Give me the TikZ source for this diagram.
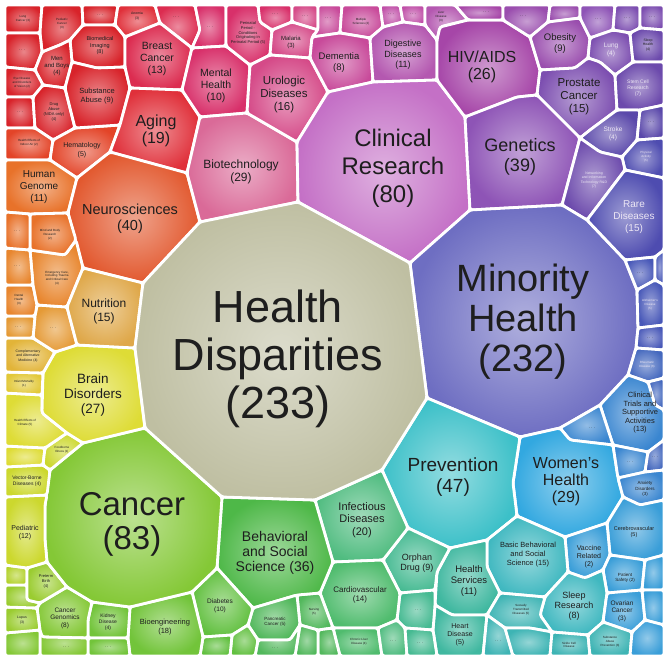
\documentclass[tikz,border=0pt]{standalone}
\usepackage{fontspec}
\setmainfont{Liberation Sans}
\definecolor{ink}{HTML}{1E1E1E}
\definecolor{lite}{HTML}{ECE6F4}
\definecolor{rA}{HTML}{D8232A}
\definecolor{rB}{HTML}{E0303A}
\definecolor{rC}{HTML}{DC2C50}
\definecolor{rD}{HTML}{D8306A}
\definecolor{rE}{HTML}{D54A88}
\definecolor{rF}{HTML}{DA6A98}
\definecolor{mA}{HTML}{C84A9A}
\definecolor{mB}{HTML}{C050A8}
\definecolor{mC}{HTML}{B458B0}
\definecolor{mD}{HTML}{C470C6}
\definecolor{pA}{HTML}{A646A8}
\definecolor{pB}{HTML}{9A4EAE}
\definecolor{pC}{HTML}{8E54B6}
\definecolor{pD}{HTML}{7C4EB0}
\definecolor{pE}{HTML}{6C4AAC}
\definecolor{pF}{HTML}{5A48AA}
\definecolor{pG}{HTML}{4E4CB0}
\definecolor{bA}{HTML}{6E6EC2}
\definecolor{bB}{HTML}{4858B8}
\definecolor{bC}{HTML}{4468BE}
\definecolor{bD}{HTML}{3A86D0}
\definecolor{bE}{HTML}{3A9ED8}
\definecolor{bF}{HTML}{32A8E0}
\definecolor{cA}{HTML}{3CC0C8}
\definecolor{cB}{HTML}{40B8C0}
\definecolor{cC}{HTML}{3EB4B4}
\definecolor{tA}{HTML}{40B8A0}
\definecolor{tB}{HTML}{46BA92}
\definecolor{gA}{HTML}{50BC80}
\definecolor{gB}{HTML}{50BC6E}
\definecolor{gC}{HTML}{52B85C}
\definecolor{gD}{HTML}{4EB848}
\definecolor{gE}{HTML}{62C040}
\definecolor{gF}{HTML}{72C43A}
\definecolor{gG}{HTML}{84C836}
\definecolor{yA}{HTML}{9ACC30}
\definecolor{yB}{HTML}{B4D22E}
\definecolor{yC}{HTML}{CCD82E}
\definecolor{yD}{HTML}{DEDC36}
\definecolor{yE}{HTML}{E2C838}
\definecolor{yF}{HTML}{E2B438}
\definecolor{oA}{HTML}{DFA84A}
\definecolor{oB}{HTML}{E59A36}
\definecolor{oC}{HTML}{E8862E}
\definecolor{oD}{HTML}{E8722A}
\definecolor{oE}{HTML}{E2582E}
\definecolor{oF}{HTML}{E34428}
\definecolor{hd}{HTML}{BFBFA2}
\newcommand\fs[2]{\fontsize{#1}{#2}\selectfont}
\newcommand\vcell[2]{\shade[rounded corners=2.5pt,outer color=#1,inner color=#1!55!white] #2 -- cycle; \draw[cellline] #2 -- cycle;}
\tikzset{
 cellline/.style={white,line width=2.8pt,rounded corners=2.5pt,line join=round},
 lbl/.style={align=center,inner sep=0pt,text=ink},
 llbl/.style={align=center,inner sep=0pt,text=lite},
}
\begin{document}
\begin{tikzpicture}[x=1pt,y=-1pt]
\useasboundingbox[fill=white] (0,0) rectangle (665,658);
% ---- top-left reds
\vcell{rA}{(5,5) -- (42,5) -- (40,33) -- (5,33)}
\vcell{rA}{(42,5) -- (82,5) -- (83,25) -- (70,40) -- (60,45) -- (42,52) -- (40,33)}
\vcell{rA}{(82,5) -- (118,5) -- (115,25) -- (83,25)}
\vcell{rB}{(118,5) -- (155,5) -- (160,23) -- (125,37) -- (115,25)}
\vcell{rC}{(155,5) -- (195,5) -- (200,30) -- (192,48) -- (160,23)}
\vcell{rD}{(195,5) -- (226,5) -- (226,46) -- (192,48) -- (200,30)}
\vcell{rA}{(5,33) -- (40,33) -- (42,52) -- (35,70) -- (5,67)}
\vcell{rA}{(72,62) -- (70,40) -- (83,25) -- (115,25) -- (125,37) -- (125,67) -- (97,68)}
\vcell{rA}{(35,70) -- (42,52) -- (60,45) -- (70,40) -- (72,62) -- (65,88) -- (43,85)}
\vcell{rA}{(5,67) -- (35,70) -- (43,85) -- (33,97) -- (5,97)}
\vcell{rA}{(5,97) -- (33,97) -- (35,128) -- (5,128)}
\vcell{rA}{(33,97) -- (43,85) -- (65,88) -- (75,128) -- (53,140) -- (35,128)}
\vcell{oF}{(5,128) -- (35,128) -- (53,140) -- (50,160) -- (5,160)}
\vcell{oF}{(53,140) -- (75,128) -- (120,125) -- (110,152) -- (77,178) -- (50,160)}
\vcell{rA}{(65,88) -- (72,62) -- (97,68) -- (125,67) -- (130,88) -- (120,125) -- (75,128)}
\vcell{rC}{(125,37) -- (160,23) -- (192,48) -- (182,90) -- (130,88) -- (125,67)}
\vcell{rB}{(130,88) -- (182,90) -- (200,117) -- (187,173) -- (110,152) -- (120,125)}
\vcell{rD}{(200,117) -- (182,90) -- (192,48) -- (226,46) -- (250,65) -- (247,113)}
\vcell{oD}{(5,160) -- (50,160) -- (77,178) -- (68,213) -- (30,214) -- (5,212)}
\vcell{oE}{(77,178) -- (110,152) -- (187,173) -- (200,222) -- (143,283) -- (83,268) -- (68,213)}
\vcell{rF}{(200,117) -- (247,113) -- (297,142) -- (298,202) -- (200,222) -- (187,173)}
\vcell{rD}{(226,5) -- (258,5) -- (260,22) -- (272,30) -- (270,55) -- (250,65) -- (226,46)}
\vcell{rD}{(258,5) -- (292,5) -- (292,22) -- (272,30) -- (260,22)}
\vcell{rE}{(292,5) -- (318,5) -- (318,30) -- (292,22)}
\vcell{rE}{(272,30) -- (292,22) -- (318,30) -- (312,37) -- (310,58) -- (270,55)}
\vcell{rE}{(247,113) -- (250,65) -- (270,55) -- (310,58) -- (328,92) -- (297,142)}
\vcell{mA}{(318,5) -- (342,5) -- (340,33) -- (312,37) -- (318,30)}
\vcell{mA}{(342,5) -- (380,5) -- (383,27) -- (370,38) -- (340,33)}
\vcell{mA}{(312,37) -- (340,33) -- (370,38) -- (373,82) -- (328,92) -- (310,58)}
\vcell{mB}{(380,5) -- (400,5) -- (403,22) -- (383,27)}
\vcell{mB}{(400,5) -- (425,5) -- (425,25) -- (403,22)}
\vcell{mC}{(370,38) -- (383,27) -- (403,22) -- (425,25) -- (437,40) -- (437,80) -- (373,82)}
\vcell{mC}{(425,5) -- (455,5) -- (468,20) -- (440,27) -- (437,40) -- (425,25)}
\vcell{mD}{(298,202) -- (297,142) -- (328,92) -- (373,82) -- (437,80) -- (465,117) -- (470,210) -- (410,263)}
% ---- purples
\vcell{pA}{(437,40) -- (440,27) -- (468,20) -- (503,20) -- (530,37) -- (540,70) -- (537,95) -- (517,97) -- (465,117) -- (437,80)}
\vcell{pA}{(455,5) -- (503,5) -- (503,20) -- (468,20)}
\vcell{pB}{(503,5) -- (550,5) -- (548,22) -- (530,37) -- (503,20)}
\vcell{pB}{(550,5) -- (580,5) -- (580,18) -- (548,22)}
\vcell{pB}{(530,37) -- (548,22) -- (580,18) -- (590,38) -- (588,58) -- (575,68) -- (540,70)}
\vcell{pC}{(580,5) -- (615,5) -- (613,30) -- (590,38) -- (580,18)}
\vcell{pD}{(615,5) -- (640,5) -- (640,28) -- (630,33) -- (613,30)}
\vcell{pD}{(640,5) -- (664,5) -- (664,30) -- (640,28)}
\vcell{pD}{(590,38) -- (613,30) -- (630,33) -- (633,62) -- (615,75) -- (600,62) -- (588,58)}
\vcell{pE}{(630,33) -- (640,28) -- (664,30) -- (664,62) -- (633,62)}
\vcell{pD}{(540,70) -- (575,68) -- (588,58) -- (600,62) -- (615,75) -- (617,110) -- (590,130) -- (580,138) -- (537,95)}
\vcell{pE}{(615,75) -- (633,62) -- (664,62) -- (664,105) -- (640,110) -- (617,110)}
\vcell{pC}{(465,117) -- (517,97) -- (537,95) -- (580,138) -- (562,205) -- (470,210)}
\vcell{pF}{(580,138) -- (590,130) -- (617,110) -- (640,110) -- (637,140) -- (622,157) -- (600,152)}
\vcell{pF}{(640,110) -- (664,105) -- (664,138) -- (637,140)}
\vcell{pG}{(637,140) -- (664,138) -- (664,178) -- (625,170) -- (622,157)}
\vcell{pE}{(580,138) -- (600,152) -- (622,157) -- (625,170) -- (587,220) -- (562,205)}
\vcell{bA}{(410,263) -- (470,210) -- (562,205) -- (587,220) -- (625,260) -- (637,290) -- (638,328) -- (636,348) -- (628,375) -- (600,405) -- (560,428) -- (520,437) -- (427,398)}
\vcell{pG}{(587,220) -- (625,170) -- (664,178) -- (664,250) -- (655,257) -- (625,260)}
% ---- blues right
\vcell{bB}{(625,260) -- (655,257) -- (655,280) -- (637,290)}
\vcell{bB}{(655,257) -- (664,250) -- (664,285) -- (655,280)}
\vcell{bB}{(637,290) -- (655,280) -- (664,285) -- (664,325) -- (638,328)}
\vcell{bB}{(638,328) -- (664,325) -- (664,350) -- (636,348)}
\vcell{bC}{(636,348) -- (664,350) -- (664,378) -- (648,382) -- (628,375)}
\vcell{bC}{(648,382) -- (664,378) -- (664,410) -- (655,405)}
\vcell{bD}{(600,405) -- (628,375) -- (648,382) -- (655,405) -- (664,410) -- (664,440) -- (648,452) -- (613,445)}
\vcell{bD}{(560,428) -- (600,405) -- (613,445) -- (570,440)}
\vcell{bF}{(520,437) -- (560,428) -- (570,440) -- (613,445) -- (618,478) -- (623,497) -- (607,523) -- (565,537) -- (517,516) -- (513,483)}
\vcell{bD}{(613,445) -- (648,452) -- (645,472) -- (618,478)}
\vcell{bC}{(648,452) -- (664,440) -- (664,470) -- (645,472)}
\vcell{bD}{(618,478) -- (645,472) -- (664,470) -- (664,500) -- (640,505) -- (623,497)}
\vcell{bE}{(607,523) -- (623,497) -- (640,505) -- (664,500) -- (664,555) -- (645,560) -- (610,555)}
\vcell{bE}{(565,537) -- (607,523) -- (610,555) -- (603,570) -- (585,578) -- (568,572)}
\vcell{bE}{(603,570) -- (610,555) -- (645,560) -- (642,590) -- (607,593)}
\vcell{bE}{(645,560) -- (664,555) -- (664,590) -- (642,590)}
% ---- cyan / teal
\vcell{cA}{(427,398) -- (520,437) -- (513,483) -- (517,516) -- (487,540) -- (450,548) -- (408,528) -- (382,470)}
\vcell{cB}{(487,540) -- (517,516) -- (565,537) -- (568,572) -- (545,597) -- (500,593) -- (487,567)}
\vcell{cB}{(545,597) -- (568,572) -- (585,578) -- (603,570) -- (607,593) -- (603,622) -- (588,635) -- (552,632) -- (540,615)}
\vcell{bE}{(607,593) -- (642,590) -- (645,620) -- (632,632) -- (603,622)}
\vcell{bE}{(642,590) -- (664,590) -- (664,625) -- (645,620)}
\vcell{tA}{(450,548) -- (487,540) -- (487,567) -- (500,593) -- (487,615) -- (452,615) -- (435,605) -- (437,572)}
\vcell{cC}{(500,593) -- (545,597) -- (540,615) -- (552,632) -- (530,628) -- (505,628) -- (487,615)}
\vcell{tA}{(435,605) -- (452,615) -- (487,615) -- (483,656) -- (437,656) -- (433,630)}
\vcell{cC}{(487,615) -- (505,628) -- (513,656) -- (483,656)}
\vcell{cC}{(505,628) -- (530,628) -- (552,632) -- (550,656) -- (513,656)}
\vcell{cC}{(552,632) -- (588,635) -- (590,656) -- (550,656)}
\vcell{cC}{(588,635) -- (603,622) -- (632,632) -- (630,656) -- (590,656)}
\vcell{bE}{(632,632) -- (645,620) -- (664,625) -- (664,656) -- (630,656)}
\vcell{tB}{(408,528) -- (450,548) -- (437,572) -- (435,590) -- (400,593) -- (383,560)}
\vcell{tB}{(400,593) -- (435,590) -- (435,605) -- (433,630) -- (405,628) -- (397,620)}
% ---- greens
\vcell{gA}{(315,500) -- (382,470) -- (408,528) -- (383,560) -- (333,562)}
\vcell{gB}{(333,562) -- (383,560) -- (400,593) -- (397,620) -- (378,628) -- (333,628) -- (320,593)}
\vcell{gB}{(333,628) -- (378,628) -- (382,656) -- (340,656)}
\vcell{gA}{(378,628) -- (397,620) -- (405,628) -- (407,656) -- (382,656)}
\vcell{tB}{(405,628) -- (433,630) -- (437,656) -- (407,656)}
\vcell{gC}{(297,595) -- (320,593) -- (333,628) -- (318,630) -- (300,625)}
\vcell{gC}{(318,630) -- (333,628) -- (340,656) -- (318,656)}
\vcell{gC}{(300,625) -- (318,630) -- (318,656) -- (295,656)}
\vcell{gD}{(222,497) -- (315,500) -- (333,562) -- (320,593) -- (297,595) -- (253,608) -- (217,568)}
\vcell{gC}{(253,608) -- (297,595) -- (300,625) -- (290,640) -- (258,640) -- (248,625)}
\vcell{gC}{(258,640) -- (290,640) -- (300,625) -- (295,656) -- (255,656)}
\vcell{gE}{(192,592) -- (217,568) -- (253,608) -- (248,625) -- (232,635) -- (203,637)}
\vcell{gE}{(232,635) -- (248,625) -- (258,640) -- (255,656) -- (230,656)}
\vcell{gE}{(203,637) -- (232,635) -- (230,656) -- (200,656)}
\vcell{gF}{(130,607) -- (192,592) -- (203,637) -- (200,656) -- (130,656) -- (128,638)}
\vcell{gF}{(92,602) -- (130,607) -- (128,638) -- (88,638) -- (88,620)}
\vcell{gF}{(88,638) -- (128,638) -- (130,656) -- (88,656)}
\vcell{gG}{(37,608) -- (40,603) -- (67,587) -- (92,602) -- (88,620) -- (88,638) -- (42,637) -- (40,630)}
\vcell{gG}{(40,630) -- (42,637) -- (88,638) -- (88,656) -- (40,656)}
\vcell{gG}{(5,633) -- (40,630) -- (40,656) -- (5,656)}
\vcell{yA}{(5,607) -- (37,608) -- (40,630) -- (5,633)}
\vcell{yA}{(5,585) -- (27,585) -- (27,600) -- (40,603) -- (37,608) -- (5,607)}
\vcell{yB}{(5,565) -- (27,568) -- (27,585) -- (5,585)}
\vcell{yA}{(27,568) -- (47,562) -- (67,587) -- (40,603) -- (27,600)}
\vcell{gG}{(83,443) -- (145,428) -- (222,497) -- (217,568) -- (192,592) -- (130,607) -- (92,602) -- (67,587) -- (47,562) -- (45,540) -- (45,505) -- (50,470)}
% ---- yellows / oranges left
\vcell{yC}{(5,497) -- (47,495) -- (45,505) -- (45,540) -- (47,562) -- (27,568) -- (5,565)}
\vcell{yC}{(5,467) -- (43,465) -- (50,470) -- (47,495) -- (5,497)}
\vcell{yD}{(5,446) -- (45,448) -- (43,465) -- (5,467)}
\vcell{yC}{(45,448) -- (67,433) -- (83,443) -- (50,470) -- (43,465)}
\vcell{yD}{(5,393) -- (42,395) -- (42,413) -- (67,433) -- (45,448) -- (5,446)}
\vcell{yD}{(77,345) -- (135,348) -- (145,428) -- (83,443) -- (67,433) -- (42,413) -- (43,373) -- (55,352)}
\vcell{yE}{(5,372) -- (43,373) -- (42,395) -- (5,393)}
\vcell{yF}{(5,338) -- (33,338) -- (55,352) -- (43,373) -- (5,372)}
\vcell{oB}{(37,305) -- (67,307) -- (77,345) -- (55,352) -- (33,338) -- (35,316)}
\vcell{oB}{(5,316) -- (35,316) -- (33,338) -- (5,338)}
\vcell{oC}{(5,285) -- (33,285) -- (37,305) -- (35,316) -- (5,316)}
\vcell{oC}{(30,250) -- (65,255) -- (76,240) -- (83,268) -- (67,307) -- (37,305) -- (33,285)}
\vcell{oC}{(5,248) -- (30,250) -- (33,285) -- (5,285)}
\vcell{oD}{(30,214) -- (68,213) -- (76,240) -- (65,255) -- (30,250)}
\vcell{oD}{(5,212) -- (30,214) -- (30,250) -- (5,248)}
\vcell{oA}{(83,268) -- (143,283) -- (135,348) -- (77,345) -- (67,307)}
% ---- centre
\vcell{hd}{(200,222) -- (298,202) -- (410,263) -- (427,398) -- (382,470) -- (315,500) -- (222,497) -- (145,428) -- (135,348) -- (143,283)}

% ================= labels
\node[lbl,font=\fs{45}{48}] (nhd) at (278,359) {Health\\Disparities\\(233)};
\node[lbl,font=\fs{38}{40}] (nmh) at (523,322) {Minority\\Health\\(232)};
\node[lbl,font=\fs{24}{28}] (ncr) at (393,168) {Clinical\\Research\\(80)};
\node[lbl,font=\fs{33}{34}] (nca) at (132,524) {Cancer\\(83)};
\node[lbl,font=\fs{18}{20}] (nge) at (520,157) {Genetics\\(39)};
\node[lbl,font=\fs{16}{17}] (nhiv) at (482,67) {HIV/AIDS\\(26)};
\node[lbl,font=\fs{16}{17}] (nag) at (156,131) {Aging\\(19)};
\node[lbl,font=\fs{10.5}{12}] (nbc) at (157,59) {Breast\\Cancer\\(13)};
\node[lbl,font=\fs{10.5}{12}] (nmen) at (216,86) {Mental\\Health\\(10)};
\node[lbl,font=\fs{11.5}{13}] (nuro) at (284,95) {Urologic\\Diseases\\(16)};
\node[lbl,font=\fs{12}{13}] (nbio) at (241,172) {Biotechnology\\(29)};
\node[lbl,font=\fs{9.5}{11}] (ndem) at (339,63) {Dementia\\(8)};
\node[lbl,font=\fs{9}{10.5}] (ndig) at (403,55) {Digestive\\Diseases\\(11)};
\node[lbl,font=\fs{6}{7}] (nmal) at (291,42) {Malaria\\(3)};
\node[lbl,font=\fs{4}{4.8}] (nper) at (248,33) {Perinatal\\Period -\\Conditions\\Originating in\\Perinatal Period (5)};
\node[lbl,font=\fs{9.5}{11}] (nob) at (560,44) {Obesity\\(9)};
\node[llbl,font=\fs{6.5}{7.5}] (nlung) at (611,50) {Lung\\(4)};
\node[lbl,font=\fs{11.5}{13}] (npro) at (579,97) {Prostate\\Cancer\\(15)};
\node[llbl,font=\fs{5}{6}] (nstem) at (638,88) {Stem Cell\\Research\\(7)};
\node[llbl,font=\fs{6.5}{7.5}] (nstr) at (613,134) {Stroke\\(4)};
\node[llbl,font=\fs{3.5}{4.2}] (nnet) at (594,180) {Networking\\and Information\\Technology R\&D\\(7)};
\node[llbl,font=\fs{10}{12}] (nrare) at (634,217) {Rare\\Diseases\\(15)};
\node[lbl,font=\fs{7.5}{8.5}] (nct) at (640,413) {Clinical\\Trials and\\Supportive\\Activities\\(13)};
\node[lbl,font=\fs{16}{17}] (nwh) at (566,482) {Women's\\Health\\(29)};
\node[lbl,font=\fs{19}{21}] (npr) at (453,477) {Prevention\\(47)};
\node[lbl,font=\fs{7.5}{9}] (nbb) at (528,555) {Basic Behavioral\\and Social\\Science (15)};
\node[lbl,font=\fs{7}{8}] (nvac) at (589,557) {Vaccine\\Related\\(2)};
\node[lbl,font=\fs{5.5}{6.5}] (ncer) at (634,532) {Cerebrovascular\\(5)};
\node[lbl,font=\fs{4.5}{5.5}] (nanx) at (645,489) {Anxiety\\Disorders\\(3)};
\node[lbl,font=\fs{4.5}{5.5}] (nps) at (625,578) {Patient\\Safety (2)};
\node[lbl,font=\fs{6.5}{7.5}] (nov) at (622,611) {Ovarian\\Cancer\\(3)};
\node[lbl,font=\fs{9}{10}] (nsl) at (574,606) {Sleep\\Research\\(8)};
\node[lbl,font=\fs{9.5}{11}] (nhs) at (469,581) {Health\\Services\\(11)};
\node[lbl,font=\fs{7}{8}] (nhrt) at (460,635) {Heart\\Disease\\(5)};
\node[lbl,font=\fs{9}{10}] (nor) at (417,563) {Orphan\\Drug (9)};
\node[lbl,font=\fs{11}{12.5}] (ninf) at (362,520) {Infectious\\Diseases\\(20)};
\node[lbl,font=\fs{8}{9}] (ncv) at (360,595) {Cardiovascular\\(14)};
\node[lbl,font=\fs{14}{15}] (nbs) at (275,553) {Behavioral\\and Social\\Science (36)};
\node[lbl,font=\fs{4.5}{5.5}] (npan) at (275,622) {Pancreatic\\Cancer (5)};
\node[lbl,font=\fs{6.5}{7.5}] (ndia) at (220,606) {Diabetes\\(10)};
\node[lbl,font=\fs{7.5}{9}] (nbioe) at (165,627) {Bioengineering\\(18)};
\node[lbl,font=\fs{5}{6}] (nkid) at (108,622) {Kidney\\Disease\\(4)};
\node[lbl,font=\fs{6.5}{7.5}] (ncg) at (65,618) {Cancer\\Genomics\\(8)};
\node[lbl,font=\fs{4}{5}] (npt) at (46,582) {Preterm\\Birth\\(4)};
\node[lbl,font=\fs{3.5}{4.5}] (nlup) at (22,620) {Lupus\\(3)};
\node[lbl,font=\fs{7}{8}] (nped) at (25,533) {Pediatric\\(12)};
\node[lbl,font=\fs{5}{6}] (nvb) at (27,481) {Vector-Borne\\Diseases (4)};
\node[lbl,font=\fs{3}{3.8}] (nfood) at (62,450) {Foodborne\\Illness (1)};
\node[lbl,font=\fs{13.5}{15}] (nbr) at (93,395) {Brain\\Disorders\\(27)};
\node[lbl,font=\fs{12}{14}] (nnu) at (104,311) {Nutrition\\(15)};
\node[lbl,font=\fs{3.5}{4.3}] (ncam) at (28,356) {Complementary\\and Alternative\\Medicine (4)};
\node[lbl,font=\fs{10}{12}] (nhg) at (39,187) {Human\\Genome\\(11)};
\node[lbl,font=\fs{14.5}{16}] (nneu) at (130,219) {Neurosciences\\(40)};
\node[lbl,font=\fs{7}{9}] (nhem) at (82,150) {Hematology\\(5)};
\node[lbl,font=\fs{7.5}{9}] (nsub) at (97,96) {Substance\\Abuse (9)};
\node[lbl,font=\fs{4}{4.8}] (ndrug) at (54,112) {Drug\\Abuse\\(NIDA only)\\(4)};
\node[lbl,font=\fs{6}{7}] (nmb) at (57,66) {Men\\and Boys\\(4)};
\node[lbl,font=\fs{5.5}{6.5}] (nbi) at (100,46) {Biomedical\\Imaging\\(8)};
% tiny texts
\node[lbl,font=\fs{3}{3.8}] (t1) at (23,19) {Lung\\Cancer (3)};
\node[lbl,font=\fs{3}{3.8}] (t2) at (62,24) {Pediatric\\Cancer\\(3)};
\node[lbl,font=\fs{3.5}{4.2}] (t3) at (137,16) {Anemia\\(3)};
\node[lbl,font=\fs{3}{3.8}] (t4) at (22,83) {Eye Disease\\and Disorders\\of Vision (2)};
\node[lbl,font=\fs{3}{3.8}] (t5) at (29,143) {Health Effects of\\Indoor Air (2)};
\node[lbl,font=\fs{3}{3.8}] (t6) at (361,22) {Multiple\\Sclerosis (2)};
\node[lbl,font=\fs{3}{3.8}] (t7) at (441,17) {Liver\\Disease\\(3)};
\node[lbl,font=\fs{3.5}{4.2}] (t8) at (648,45) {Sleep\\Health\\(4)};
\node[llbl,font=\fs{3}{3.8}] (t9) at (646,157) {Physical\\Activity\\(5)};
\node[llbl,font=\fs{3}{3.8}] (t10) at (650,305) {Alzheimer's\\Disease\\(5)};
\node[llbl,font=\fs{3}{3.8}] (t11) at (647,365) {Rheumatic\\Disease (6)};
\node[lbl,font=\fs{3}{3.8}] (t12) at (521,610) {Sexually\\Transmitted\\Diseases (5)};
\node[lbl,font=\fs{3}{3.8}] (t13) at (569,645) {Sickle Cell\\Disease};
\node[lbl,font=\fs{3}{3.8}] (t14) at (610,642) {Substance\\Abuse\\Prevention (3)};
\node[lbl,font=\fs{3}{3.8}] (t15) at (359,642) {Chronic Liver\\Disease (4)};
\node[lbl,font=\fs{3}{3.8}] (t16) at (314,612) {Nursing\\(5)};
\node[lbl,font=\fs{3}{3.8}] (t17) at (50,235) {Mind and Body\\Research\\(2)};
\node[lbl,font=\fs{3}{3.8}] (t18) at (57,278) {Emergency Care,\\Including Trauma\\and Critical Care\\(4)};
\node[lbl,font=\fs{3}{3.8}] (t19) at (19,300) {Dental\\Health\\(3)};
\node[lbl,font=\fs{3}{3.8}] (t20) at (24,384) {Infant Mortality\\(1)};
\node[lbl,font=\fs{3}{3.8}] (t21) at (25,423) {Health Effects of\\Climate (5)};
% dots
\foreach \p/\n in {(22,50)/d1,(20,112)/d2,(100,15)/d3,(176,17)/d4,(210,27)/d5,(275,14)/d6,(305,16)/d7,(328,18)/d8,(391,14)/d9,(413,14)/d10,(486,12)/d11,(523,16)/d12,(598,19)/d13,(627,18)/d14,(652,17)/d15,(651,122)/d16,(640,273)/d17,(650,338)/d18,(592,428)/d19,(630,462)/d20,(655,457)/d21,(418,610)/d22,(393,641)/d23,(420,643)/d24,(498,641)/d25,(53,328)/d26,(18,327)/d27,(17,266)/d28,(17,231)/d29,(275,648)/d30,(66,647)/d31,(108,647)/d32}
  \node[lbl,font=\fs{4}{5}] (\n) at \p {. . .};
\end{tikzpicture}
\end{document}
